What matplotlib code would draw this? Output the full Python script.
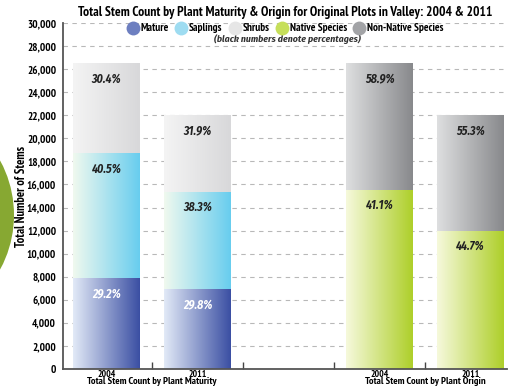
import numpy as np
import matplotlib
matplotlib.use('Agg')
import matplotlib.pyplot as plt
from matplotlib.colors import LinearSegmentedColormap
from matplotlib.lines import Line2D
from matplotlib.patches import Circle

plt.rcParams['font.family'] = ['PT Sans Narrow', 'DejaVu Sans']
ITAL = ['Fira Sans Condensed', 'DejaVu Sans']

# data
years = ['2004', '2011']
mature = [7900, 6900]
saplings = [10800, 8450]
shrubs = [7800, 6650]
native = [15550, 12000]
non_native = [11000, 10000]

pct_mature = ['29.2%', '29.8%']
pct_saplings = ['40.5%', '38.3%']
pct_shrubs = ['30.4%', '31.9%']
pct_native = ['41.1%', '44.7%']
pct_non_native = ['58.9%', '55.3%']

group_labels = ['Total Stem Count by Plant Maturity', 'Total Stem Count by Plant Origin']
series_names = ['Mature', 'Saplings', 'Shrubs', 'Native Species', 'Non-Native Species']

# gradient colours (light left -> dark right)
grads = {
    'Mature': ('#e2eaf7', '#3b4fa3'),
    'Saplings': ('#f0f9ee', '#68cdef'),
    'Shrubs': ('#f4f4f4', '#d8d8da'),
    'Native Species': ('#f6f9dc', '#aecf2a'),
    'Non-Native Species': ('#dedfe0', '#88898c'),
}
mid = {'Mature': '#6d7fc0', 'Saplings': '#9edcf1', 'Shrubs': '#e6e6e6',
       'Native Species': '#c6df5a', 'Non-Native Species': '#a2a3a6'}

fig = plt.figure(figsize=(5.08, 3.9), dpi=100)
ax = fig.add_axes([0.124, 0.054, 0.874, 0.887])

xpos_mat = [0, 1]
xpos_ori = [3, 4]
width = 0.73
grad = np.linspace(0, 1, 256).reshape(1, -1)


def seg(x, bottom, height, name, label, txtcolor):
    cmap = LinearSegmentedColormap.from_list(name, grads[name])
    ax.imshow(grad, cmap=cmap, aspect='auto', zorder=2,
              extent=[x - width / 2, x + width / 2, bottom, bottom + height])
    ax.text(x, bottom + height - 1350, label, ha='center', va='center', family=ITAL,
            fontsize=8.5, fontweight='bold', style='italic', color=txtcolor, zorder=3)


for i in range(2):
    x = xpos_mat[i]
    seg(x, 0, mature[i], 'Mature', pct_mature[i], 'white')
    seg(x, mature[i], saplings[i], 'Saplings', pct_saplings[i], '#222222')
    seg(x, mature[i] + saplings[i], shrubs[i], 'Shrubs', pct_shrubs[i], '#222222')
    x = xpos_ori[i]
    seg(x, 0, native[i], 'Native Species', pct_native[i], '#222222')
    seg(x, native[i], non_native[i], 'Non-Native Species', pct_non_native[i], '#222222')

ax.set_xlim(-0.48, 4.4)
ax.set_ylim(0, 30000)
ax.set_yticks(np.arange(0, 30001, 2000))
ax.set_yticklabels([f'{v:,}' for v in range(0, 30001, 2000)], fontsize=8, fontweight='bold')
ax.yaxis.grid(True, linestyle=(0, (4, 4)), color='#b8b8b8', linewidth=0.8)
ax.set_axisbelow(True)

ax.set_xticks([0.5, 1.5, 2.5, 3.5])
ax.set_xticklabels([])
ax.tick_params(axis='x', length=5, direction='in', color='#444444', width=1)
ax.tick_params(axis='y', length=0, pad=5)

for s in ['top', 'right']:
    ax.spines[s].set_visible(False)
for s in ['left', 'bottom']:
    ax.spines[s].set_color('#555555')
    ax.spines[s].set_linewidth(1.3)

# category labels under bars
for x, yr in zip(xpos_mat + xpos_ori, years + years):
    ax.text(x, -60, yr, ha='center', va='top', fontsize=6.8, fontweight='bold', clip_on=False)
ax.text(0.5, -720, group_labels[0], ha='center', va='top', fontsize=7.5, fontweight='bold', clip_on=False)
ax.text(3.5, -720, group_labels[1], ha='center', va='top', fontsize=7.5, fontweight='bold', clip_on=False)

ax.set_ylabel('Total Number of Stems', fontsize=9, fontweight='bold')
ax.yaxis.set_label_coords(-0.079, 0.5)

fig.text(0.561, 0.968, 'Total Stem Count by Plant Maturity & Origin for Original Plots in Valley: 2004 & 2011',
         ha='center', va='center', fontsize=9.7, fontweight='bold')
handles = [Line2D([], [], marker='o', linestyle='none', markersize=10,
                  markerfacecolor=mid[n], markeredgecolor='none', label=n) for n in series_names]
fig.legend(handles=handles, loc='center', bbox_to_anchor=(0.562, 0.927), ncol=5, frameon=False,
           prop={'weight': 'bold', 'size': 8}, handlelength=1.0, handletextpad=0.2, columnspacing=0.6)
fig.text(0.565, 0.9, '(black numbers denote percentages)', ha='center', va='center', family=ITAL,
         fontsize=7, fontweight='bold', style='italic', color='#333333')

# green decoration on the left edge
fig.patches.append(Circle((-100, 175), 114, transform=None, facecolor='#87a832',
                          edgecolor='none', zorder=0))

fig.savefig('out.png', dpi=100)
